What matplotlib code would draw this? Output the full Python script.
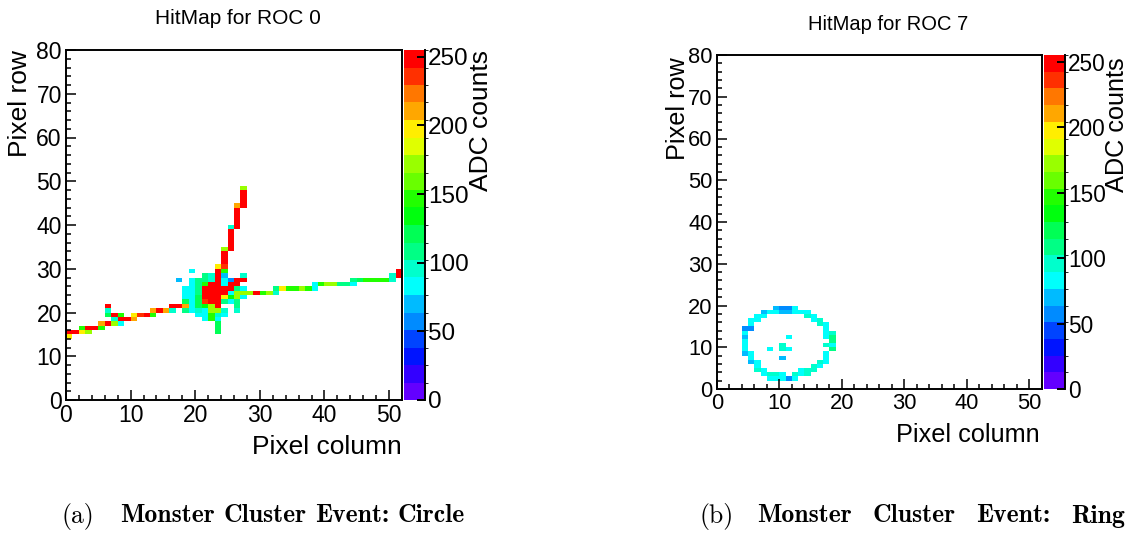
import colorsys
import numpy as np
import matplotlib
matplotlib.use("Agg")
import matplotlib.pyplot as plt
from matplotlib.colors import ListedColormap, BoundaryNorm
from matplotlib.ticker import MultipleLocator
from matplotlib.lines import Line2D

# ---------------------------------------------------------------- data
N_COLS, N_ROWS = 52, 80
ADC_MAX = 255
N_CONTOURS = 20
cbar_ticks = [0, 50, 100, 150, 200, 250]
axis_ticks_x = [0, 10, 20, 30, 40, 50]
axis_ticks_y = [0, 10, 20, 30, 40, 50, 60, 70, 80]

# ROC 0 hits: pixel column, pixel row, ADC counts
roc0_col = [0,
            0, 1, 2, 3, 23,
            2, 3, 4, 5, 23,
            5, 6, 7, 8, 23,
            7, 8, 9, 10, 21, 22, 23,
            6, 7, 8, 10, 11, 12, 13, 20, 21, 22, 23, 24,
            6, 13, 14, 15, 16, 18, 19, 20, 21, 22, 23, 24, 26,
            6, 16, 17, 18, 19, 20, 21, 22, 23, 26,
            18, 19, 20, 21, 22, 23, 24, 25, 26,
            18, 19, 20, 21, 22, 23, 24, 25, 26, 27,
            18, 19, 20, 21, 22, 23, 24, 25, 26, 27, 28, 29, 30, 31, 32,
            18, 19, 20, 21, 22, 23, 24, 25, 26, 27, 32, 33, 34, 35, 36, 37, 38,
            19, 20, 21, 22, 23, 24, 25, 26, 38, 39, 40, 41, 42, 43, 44,
            17, 19, 20, 21, 22, 23, 24, 25, 26, 27, 44, 45, 46, 47, 48, 49, 50,
            21, 22, 23, 24, 27, 50, 51,
            19, 23, 24, 51,
            23, 24,
            24, 24, 24,
            24, 25,
            25, 25, 25, 25,
            25, 26,
            26, 26, 26, 26,
            26, 27,
            27, 27, 27,
            27]
roc0_row = [14,
            15, 15, 15, 15, 15,
            16, 16, 16, 16, 16,
            17, 17, 17, 17, 17,
            18, 18, 18, 18, 18, 18, 18,
            19, 19, 19, 19, 19, 19, 19, 19, 19, 19, 19, 19,
            20, 20, 20, 20, 20, 20, 20, 20, 20, 20, 20, 20, 20,
            21, 21, 21, 21, 21, 21, 21, 21, 21, 21,
            22, 22, 22, 22, 22, 22, 22, 22, 22,
            23, 23, 23, 23, 23, 23, 23, 23, 23, 23,
            24, 24, 24, 24, 24, 24, 24, 24, 24, 24, 24, 24, 24, 24, 24,
            25, 25, 25, 25, 25, 25, 25, 25, 25, 25, 25, 25, 25, 25, 25, 25, 25,
            26, 26, 26, 26, 26, 26, 26, 26, 26, 26, 26, 26, 26, 26, 26,
            27, 27, 27, 27, 27, 27, 27, 27, 27, 27, 27, 27, 27, 27, 27, 27, 27,
            28, 28, 28, 28, 28, 28, 28,
            29, 29, 29, 29,
            30, 30,
            31, 32, 33,
            34, 34,
            35, 36, 37, 38,
            39, 39,
            40, 41, 42, 43,
            44, 44,
            45, 46, 47,
            48]
roc0_adc = [200,
            250, 250, 200, 172, 121,
            147, 250, 250, 147, 121,
            212, 250, 172, 83, 121,
            96, 250, 250, 212, 83, 147, 83,
            121, 250, 147, 200, 238, 250, 147, 83, 83, 147, 96, 83,
            96, 212, 250, 212, 96, 108, 83, 96, 83, 172, 172, 96, 96,
            250, 250, 250, 212, 83, 121, 134, 172, 250, 108,
            121, 83, 121, 238, 250, 250, 108, 83, 108,
            83, 83, 121, 250, 250, 250, 200, 134, 172, 83,
            83, 83, 108, 250, 250, 250, 250, 83, 172, 172, 172, 250, 147, 172, 96,
            83, 83, 108, 250, 250, 250, 250, 250, 108, 83, 108, 200, 147, 147, 172, 147, 83,
            83, 108, 147, 250, 250, 83, 250, 250, 83, 147, 172, 172, 108, 108, 83,
            70, 83, 108, 108, 96, 250, 83, 57, 250, 250, 108, 121, 147, 147, 147, 147, 96,
            108, 96, 250, 70, 96, 96, 250,
            83, 250, 147, 250,
            200, 238,
            250, 250, 250,
            172, 250,
            250, 250, 250, 250,
            96, 250,
            250, 250, 250, 250,
            212, 250,
            250, 250, 250,
            172]

# ROC 7 hits: pixel column, pixel row, ADC counts
roc7_col = [8, 9, 10, 11, 12,
            7, 8, 9, 10, 12, 13, 14,
            6, 7, 13, 14, 15,
            6, 15, 16,
            5, 6, 16, 17,
            5, 10, 17,
            4, 5, 17,
            4, 8, 10, 11, 18,
            4, 10, 17, 18,
            4, 18,
            4, 11, 17, 18,
            4, 17, 18,
            4, 5, 17,
            5, 16, 17,
            5, 6, 15, 16,
            6, 7, 14, 15,
            7, 8, 9, 10, 11, 12, 13, 14,
            9, 10, 11, 12]
roc7_row = [2, 2, 2, 2, 2,
            3, 3, 3, 3, 3, 3, 3,
            4, 4, 4, 4, 4,
            5, 5, 5,
            6, 6, 6, 6,
            7, 7, 7,
            8, 8, 8,
            9, 9, 9, 9, 9,
            10, 10, 10, 10,
            11, 11,
            12, 12, 12, 12,
            13, 13, 13,
            14, 14, 14,
            15, 15, 15,
            16, 16, 16, 16,
            17, 17, 17, 17,
            18, 18, 18, 18, 18, 18, 18, 18,
            19, 19, 19, 19]
roc7_adc = [83, 83, 83, 57, 83,
            83, 96, 96, 83, 96, 83, 96,
            96, 83, 83, 96, 96,
            83, 96, 83,
            70, 83, 96, 83,
            83, 70, 83,
            70, 83, 83,
            83, 83, 96, 83, 108,
            83, 96, 96, 83,
            83, 108,
            70, 83, 83, 108,
            83, 83, 96,
            57, 57, 83,
            83, 96, 83,
            83, 83, 83, 96,
            83, 83, 96, 83,
            70, 83, 83, 70, 70, 83, 83, 83,
            70, 57, 57, 83]

# ---------------------------------------------------------------- style
FONT = "Liberation Sans"
plt.rcParams["font.family"] = FONT

W, H = 1132, 538


def fig_box(x0, y0, x1, y1):
    """Pixel box (top-left origin) -> figure-fraction rectangle."""
    return [x0 / W, 1 - y1 / H, (x1 - x0) / W, (y1 - y0) / H]


def fig_pt(x, y):
    return x / W, 1 - y / H


# ROOT "pretty" palette (violet -> red, HLS) sampled for 20 contours
def pretty_palette(ncontours, ncolors=50, max_hue=280.0):
    cols = []
    for k in range(ncontours):
        idx = int((k + 0.99) * ncolors / ncontours)
        hue = max_hue - (idx + 1) * max_hue / ncolors
        cols.append(colorsys.hls_to_rgb(hue / 360.0, 0.5, 1.0))
    return cols


cmap = ListedColormap(pretty_palette(N_CONTOURS))
norm = BoundaryNorm(np.linspace(0, ADC_MAX, N_CONTOURS + 1), N_CONTOURS)


def hit_grid(cols, rows, adc):
    grid = np.full((N_ROWS, N_COLS), np.nan)
    for c, r, v in zip(cols, rows, adc):
        grid[r, c] = v
    return np.ma.masked_invalid(grid)


def draw_panel(fig, ax_box, cb_box, cols, rows, adc, scale, cb_label_size):
    ax = fig.add_axes(fig_box(*ax_box))
    mesh = ax.pcolormesh(np.arange(N_COLS + 1), np.arange(N_ROWS + 1),
                         hit_grid(cols, rows, adc), cmap=cmap, norm=norm)
    ax.set_xlim(0, N_COLS)
    ax.set_ylim(0, N_ROWS)
    ax.set_xticks(axis_ticks_x)
    ax.set_yticks(axis_ticks_y)
    ax.xaxis.set_minor_locator(MultipleLocator(2))
    ax.yaxis.set_minor_locator(MultipleLocator(2))
    ax.tick_params(which="both", direction="in", top=False, right=False,
                   width=1.1, labelsize=16.5 * scale, pad=3)
    ax.tick_params(which="major", length=7.5 * scale)
    ax.tick_params(which="minor", length=3.8 * scale)
    for sp in ax.spines.values():
        sp.set_linewidth(1.4)

    cax = fig.add_axes(fig_box(*cb_box))
    cb = fig.colorbar(mesh, cax=cax, ticks=cbar_ticks)
    cb.outline.set_visible(False)
    cax.yaxis.set_ticks_position("right")
    cax.tick_params(direction="in", length=6 * scale, width=1.4,
                    labelsize=cb_label_size, pad=2)
    cax.add_line(Line2D([1, 1], [0, 1], transform=cax.transAxes,
                        color="black", lw=1.4, clip_on=False))
    return ax


fig = plt.figure(figsize=(W / 100, H / 100), dpi=100)

# ---- left panel: ROC 0
draw_panel(fig, (66, 50, 402, 400), (404, 50, 425, 400),
           roc0_col, roc0_row, roc0_adc, 1.0, 17.5)
fig.text(*fig_pt(238, 19), "HitMap for ROC 0", ha="center", va="center",
         fontsize=15)
fig.text(*fig_pt(402, 447), "Pixel column", ha="right", va="center",
         fontsize=19)
fig.text(*fig_pt(20, 50), "Pixel row", ha="center", va="top",
         rotation=90, fontsize=19)
fig.text(*fig_pt(481, 50), "ADC counts", ha="center", va="top",
         rotation=90, fontsize=19)

# ---- right panel: ROC 7
draw_panel(fig, (717, 55, 1042, 389), (1044, 55, 1065, 389),
           roc7_col, roc7_row, roc7_adc, 0.955, 16.3)
fig.text(*fig_pt(888, 25), "HitMap for ROC 7", ha="center", va="center",
         fontsize=14.5)
fig.text(*fig_pt(1040, 435), "Pixel column", ha="right", va="center",
         fontsize=18.2)
fig.text(*fig_pt(678, 57), "Pixel row", ha="center", va="top",
         rotation=90, fontsize=18.2)
fig.text(*fig_pt(1117, 57), "ADC counts", ha="center", va="top",
         rotation=90, fontsize=18.2)

# ---- sub-captions: label plus a justified bold line between x0 and x1
CAP_Y = 516
CAP_SIZE = 18.5


def caption(label, lx, words, x0, x1):
    fig.text(*fig_pt(lx, CAP_Y), label, ha="left", va="center",
             family="cmr10", fontsize=CAP_SIZE)
    texts = [fig.text(0, 0, w, ha="left", va="center", family="cmb10",
                      fontsize=CAP_SIZE) for w in words]
    renderer = fig.canvas.get_renderer()
    widths = [t.get_window_extent(renderer).width for t in texts]
    gap = (x1 - x0 - sum(widths)) / (len(words) - 1)
    x = x0
    for t, w in zip(texts, widths):
        t.set_position(fig_pt(x, CAP_Y))
        x += w + gap


caption("(a)", 62, ["Monster", "Cluster", "Event:", "Circle"], 120, 465)
caption("(b)", 700, ["Monster", "Cluster", "Event:", "Ring"], 757, 1125)

fig.savefig("out.png", dpi=100)
